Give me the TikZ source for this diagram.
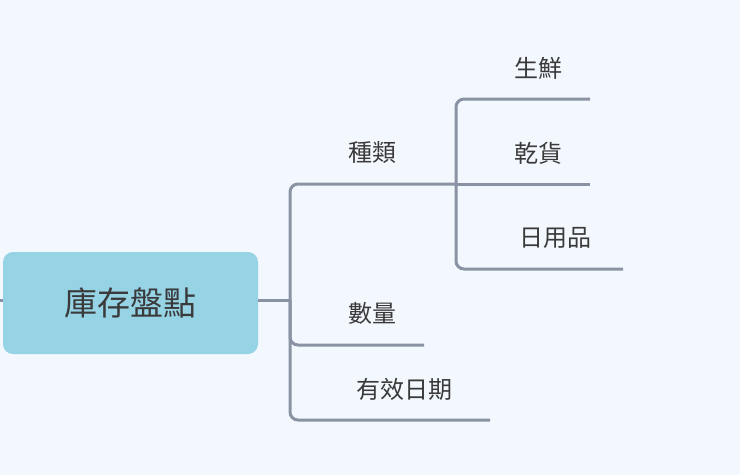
\documentclass[tikz,border=0pt]{standalone}
\usepackage{fontspec}
\setmainfont{Noto Sans CJK TC}
\definecolor{bg}{HTML}{F3F8FE}
\definecolor{ln}{HTML}{8A93A3}
\definecolor{rootc}{HTML}{96D3E5}
\definecolor{tx}{HTML}{3A3A3A}
\begin{document}
\begin{tikzpicture}[x=1pt,y=-1pt,
  conn/.style={draw=ln,line width=3pt,rounded corners=8pt},
  lbl/.style={text=tx,font=\fontsize{24}{28}\selectfont,inner sep=0pt}]
\fill[bg] (0,0) rectangle (740,475);
\useasboundingbox (0,0) rectangle (740,475);
\node[fill=rootc,rounded corners=10pt,minimum width=255pt,minimum height=102pt,inner sep=0pt,
  text=tx,font=\fontsize{33}{38}\selectfont] (root) at (130.5,303) {庫存盤點};
\coordinate (stub) at (0,300);
\draw[ln,line width=3pt] (stub) -- (root.west|-stub);
\coordinate (j) at (290,300);
\draw[ln,line width=3pt] (root.east|-j) -- (j);
\node[lbl] (a) at (372,152) {種類};
\node[lbl] (b) at (372,313) {數量};
\node[lbl] (c) at (404,389) {有效日期};
\node[lbl] (a1) at (538,68) {生鮮};
\node[lbl] (a2) at (538,153) {乾貨};
\node[lbl] (a3) at (555,238) {日用品};
\coordinate (ja) at (456,184);
\draw[conn] (j) -- (290,184) -- (ja);
\draw[conn] (j) -- (290,345) -- (424,345);
\draw[conn] (j) -- (290,420) -- (490,420);
\draw[conn] (ja) -- (456,99) -- (590,99);
\draw[conn] (ja) -- (590,184);
\draw[conn] (ja) -- (456,269) -- (623,269);
\end{tikzpicture}
\end{document}
